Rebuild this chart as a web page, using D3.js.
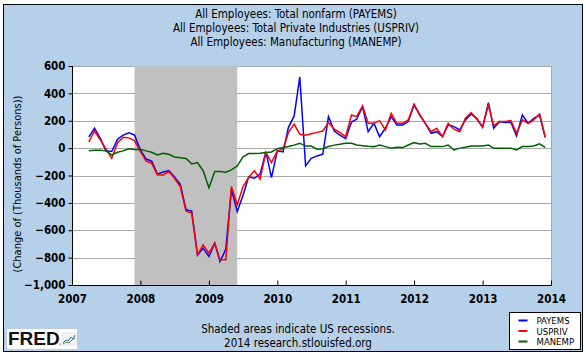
<!DOCTYPE html>
<html>
<head>
<meta charset="utf-8">
<script src="https://cdn.jsdelivr.net/npm/d3@7"></script>
<style>
  html, body { margin: 0; padding: 0; background: #ffffff; }
  svg { display: block; }
</style>
</head>
<body>
<svg id="chart" width="586" height="355"></svg>
<script>
// ---- data (monthly change, thousands of persons), Apr 2007 .. Dec 2013 ----
const firstMonth = "2007-04";
const lastMonthExclusive = "2014-01";
const payems = [
  82, 145, 72, -20, -25, 65, 95, 112, 95,
  -13, -80, -95, -190, -175, -164, -210, -265, -451, -460, -780, -731,
  -792, -694, -828, -740, -300, -463, -350, -210, -220, -190, -28, -215,
  -20, -28, 150, 235, 520, -130, -75, -57, -45, 230, 125, 95,
  70, 190, 211, 303, 120, 181, 84, 145, 230, 169, 169, 194,
  315, 242, 181, 108, 120, 84, 169, 157, 133, 206, 249, 218,
  152, 332, 145, 194, 187, 189, 89, 242, 181, 218, 242, 77
];
const uspriv = [
  45, 125, 60, -5, -75, 40, 80, 75, 55,
  -25, -95, -110, -196, -196, -171, -220, -281, -460, -475, -780, -707,
  -768, -694, -815, -815, -281, -415, -285, -215, -166, -227, -33, -106,
  -20, -8, 113, 175, 101, 94, 105, 115, 125, 186, 138, 115,
  84, 242, 230, 308, 181, 181, 201, 133, 254, 181, 181, 206,
  322, 242, 181, 120, 145, 84, 181, 138, 120, 218, 259, 211,
  157, 315, 162, 194, 194, 201, 108, 206, 181, 206, 249, 84
];
const manemp = [
  -20, -15, -15, -20, -50, -30, -20, -5, -10,
  -8, -20, -30, -50, -38, -45, -65, -70, -75, -115, -105, -165,
  -290, -171, -171, -176, -159, -130, -65, -40, -40, -38, -32, -28,
  -4, 5, 12, 22, 36, 15, 15, -8, -5, 12, 22, 28,
  35, 35, 23, 18, 14, 11, 23, 11, 0, 6, 4, 23,
  40, 31, 35, 11, 11, 11, 23, -13, 0, 6, 16, 16,
  16, 23, 0, 0, 0, 0, -13, 11, 11, 16, 31, 6
];
const seriesNames = ["PAYEMS", "USPRIV", "MANEMP"];
const seriesColors = ["#0000ff", "#ff0000", "#006000"];
const yTicks = [600, 400, 200, 0, -200, -400, -600, -800, -1000];
const xTickYears = [2007, 2008, 2009, 2010, 2011, 2012, 2013, 2014];
const recessionStart = "2007-12";
const recessionEnd = "2009-06";
const titleLines = [
  "All Employees: Total nonfarm (PAYEMS)",
  "All Employees: Total Private Industries (USPRIV)",
  "All Employees: Manufacturing (MANEMP)"
];
const yAxisLabel = "(Change of (Thousands of Persons))";
const footerLines = ["Shaded areas indicate US recessions.", "2014 research.stlouisfed.org"];

// ---- setup ----
const parseMonth = d3.timeParse("%Y-%m");
const months = d3.timeMonth.range(parseMonth(firstMonth), parseMonth(lastMonthExclusive));
const allSeries = [payems, uspriv, manemp];

const svg = d3.select("#chart");
const font = "'DejaVu Sans Condensed', 'DejaVu Sans', sans-serif";
const plot = { left: 72, right: 551, top: 66, bottom: 285 };

// background panel
svg.append("rect")
  .attr("x", 3.5).attr("y", 4.5).attr("width", 579).attr("height", 347)
  .attr("fill", "#b6d0e9").attr("stroke", "#000").attr("stroke-width", 1);

const x = d3.scaleTime()
  .domain([new Date(xTickYears[0], 0, 1), new Date(xTickYears[xTickYears.length - 1], 0, 1)])
  .range([plot.left, plot.right]);
const y = d3.scaleLinear()
  .domain([d3.min(yTicks), d3.max(yTicks)])
  .range([plot.bottom, plot.top]);

// plot background
svg.append("rect")
  .attr("x", plot.left).attr("y", plot.top)
  .attr("width", plot.right - plot.left).attr("height", plot.bottom - plot.top)
  .attr("fill", "#ffffff");

// gridlines
svg.append("g").selectAll("line").data(yTicks).join("line")
  .attr("x1", plot.left).attr("x2", plot.right)
  .attr("y1", d => Math.round(y(d)) + 0.5).attr("y2", d => Math.round(y(d)) + 0.5)
  .attr("stroke", "#a8a8a8").attr("stroke-width", 1);

// recession shading
svg.append("rect")
  .attr("x", x(parseMonth(recessionStart))).attr("y", plot.top)
  .attr("width", x(parseMonth(recessionEnd)) - x(parseMonth(recessionStart)))
  .attr("height", plot.bottom - plot.top)
  .attr("fill", "#c0c0c0");

// right border of plot
svg.append("line")
  .attr("x1", plot.right + 0.5).attr("x2", plot.right + 0.5)
  .attr("y1", plot.top).attr("y2", plot.bottom)
  .attr("stroke", "#a8a8a8");

// lines
const line = d3.line()
  .x((d, i) => x(months[i]))
  .y(d => y(d));
allSeries.forEach((vals, k) => {
  svg.append("path")
    .datum(vals)
    .attr("d", line)
    .attr("fill", "none")
    .attr("stroke", seriesColors[k])
    .attr("stroke-width", 1.5)
    .attr("stroke-linejoin", "miter");
});

// y axis
const yAxis = d3.axisLeft(y).tickValues(yTicks).tickSize(4).tickPadding(3)
  .tickFormat(d3.format(","));
const gy = svg.append("g").attr("transform", `translate(${plot.left + 0.5},0)`).call(yAxis);
gy.select(".domain").attr("stroke", "#000").attr("d", `M0,${plot.top}V${plot.bottom}`);
gy.selectAll(".tick line").attr("stroke", "#000");
gy.selectAll(".tick text")
  .attr("font-family", font).attr("font-size", 11.5).attr("font-weight", "bold")
  .attr("fill", "#000");

// x axis
const xAxis = d3.axisBottom(x)
  .tickValues(xTickYears.map(yr => new Date(yr, 0, 1)))
  .tickFormat(d3.timeFormat("%Y"))
  .tickSize(-5).tickPadding(9);
const gx = svg.append("g").attr("transform", `translate(0,${plot.bottom + 0.5})`).call(xAxis);
gx.select(".domain").attr("stroke", "#000").attr("d", `M${plot.left},0H${plot.right + 1}`);
gx.selectAll(".tick line").attr("stroke", "#000");
gx.selectAll(".tick text")
  .attr("font-family", font).attr("font-size", 11.5).attr("font-weight", "bold")
  .attr("fill", "#000");

// title
svg.append("g").selectAll("text").data(titleLines).join("text")
  .attr("x", 296).attr("y", (d, i) => 18 + i * 14)
  .attr("text-anchor", "middle")
  .attr("font-family", font).attr("font-size", 11.5)
  .attr("fill", "#000")
  .text(d => d);

// y axis label
svg.append("text")
  .attr("transform", "translate(21,184) rotate(-90)")
  .attr("text-anchor", "middle")
  .attr("font-family", font).attr("font-size", 11)
  .attr("fill", "#000")
  .text(yAxisLabel);

// footer
svg.append("g").selectAll("text").data(footerLines).join("text")
  .attr("x", 298).attr("y", (d, i) => 333 + i * 14)
  .attr("text-anchor", "middle")
  .attr("font-family", font).attr("font-size", 11.5)
  .attr("fill", "#000")
  .text(d => d);

// legend
const lg = svg.append("g").attr("transform", "translate(509.5,312.5)");
lg.append("rect").attr("width", 71).attr("height", 37)
  .attr("fill", "#ffffff").attr("stroke", "#000").attr("stroke-width", 1);
seriesNames.forEach((name, k) => {
  const yy = 8 + k * 10.5;
  lg.append("line")
    .attr("x1", 9).attr("x2", 18).attr("y1", yy).attr("y2", yy)
    .attr("stroke", seriesColors[k]).attr("stroke-width", 2);
  lg.append("text")
    .attr("x", 27).attr("y", yy + 3.5)
    .attr("font-family", font).attr("font-size", 9.5)
    .attr("fill", "#000")
    .text(name);
});

// FRED logo
const logo = svg.append("g").attr("transform", "translate(7,329)");
logo.append("rect").attr("width", 70).attr("height", 20).attr("fill", "#ffffff");
logo.append("text")
  .attr("x", 1).attr("y", 16)
  .attr("font-family", "'Liberation Sans', Arial, sans-serif")
  .attr("font-weight", "900").attr("font-size", 19)
  .attr("fill", "#111")
  .text("FRED");
logo.append("text")
  .attr("x", 52).attr("y", 17)
  .attr("font-family", "'Liberation Sans', Arial, sans-serif")
  .attr("font-size", 3).attr("fill", "#111").text("®");
const icon = logo.append("g").attr("transform", "translate(55,4)");
icon.append("rect").attr("width", 14).attr("height", 12).attr("fill", "#f4f4f4").attr("stroke", "#d8d8d8").attr("stroke-width", 0.5);
icon.append("path").attr("d", "M1,10 L4,7 L6,8 L9,4 L11,6 L13,2").attr("fill", "none").attr("stroke", "#3a6fc4").attr("stroke-width", 1);
icon.append("path").attr("d", "M1,11 L4,9 L7,10 L10,7 L13,5").attr("fill", "none").attr("stroke", "#5aa04a").attr("stroke-width", 1);
</script>
</body>
</html>
